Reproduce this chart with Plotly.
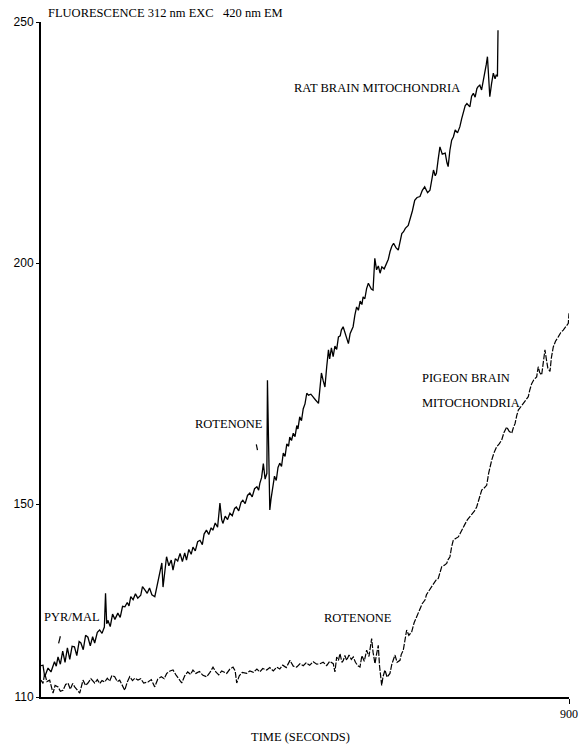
import plotly.graph_objects as go

# ---- data (time in s, fluorescence units) ----
rat_t = [0, 3.4, 6.3, 12, 17, 23, 26, 29, 33, 37, 41, 45, 49, 53, 57, 61, 65, 68, 72, 76, 80, 84, 88, 91.5,
         96, 100, 104, 108, 110, 112, 114, 118, 122, 126, 131, 135, 139, 143, 147, 150, 153, 157, 161, 165,
         170, 173, 177, 181, 185, 189, 194, 199, 203, 206, 208, 211, 214, 218, 222, 225, 229, 233, 237, 241,
         245, 248, 252, 256, 259, 263, 267, 271, 275, 278, 282, 286, 290, 293, 297, 301, 305, 308, 310, 314,
         318, 322, 326, 330, 333, 337, 341, 344, 348, 352, 356, 360, 364, 368, 371, 373, 376, 379, 382, 385,
         386, 388, 390, 392, 395, 398, 401, 404, 407, 410, 413, 416, 419, 422, 424, 427, 430, 433, 436, 438,
         441, 444, 447, 450, 453, 456, 460, 464, 468, 473, 476, 478, 481, 484, 487, 490, 492, 495, 498, 501,
         504, 507, 510, 512, 515, 518, 521, 524, 527, 530, 532, 535, 538, 541, 544, 547, 549, 552, 555, 558,
         561, 563, 566, 569, 572, 575, 578, 581, 585, 589, 592, 595, 598, 601, 605, 609, 612, 615, 618, 621,
         626, 629, 633, 637, 641, 646, 650, 654, 659, 663, 666, 669, 672, 674, 677, 680, 684, 689, 692, 694,
         697, 700, 703, 706, 710, 714, 717, 720, 723, 726, 729, 731, 734, 737, 740, 743, 745, 748, 751, 754,
         757, 759, 761, 763, 765, 768, 771, 774, 776, 778, 779]
rat_v = [116.5, 116.6, 114.2, 116.0, 115.2, 117.3, 116.4, 118.3, 116.8, 119.5, 117.2, 120.2, 117.8, 120.5,
         120.4, 118.6, 121.5, 121.2, 119.8, 122.8, 122.4, 120.6, 122.5, 121.2, 123.4, 123.9, 123.2, 124.5,
         131.5, 125.2, 125.9, 124.6, 127.2, 126.1, 127.4, 126.5, 128.8, 128.7, 129.6, 128.9, 130.8, 130.2,
         131.4, 130.5, 131.1, 132.9, 132.2, 131.5, 132.6, 131.2, 130.8, 133.6, 135.5, 137.8, 132.8, 136.5,
         139.1, 137.2, 138.4, 136.3, 138.7, 138.2, 139.8, 138.1, 139.9, 138.4, 140.6, 139.6, 141.1, 140.3,
         142.2, 142.5, 141.6, 143.8, 144.6, 143.7, 145.1, 144.6, 146.1, 145.2, 150.2, 146.8, 146.0, 147.5,
         146.8, 148.1, 147.6, 149.1, 149.4, 148.6, 150.4, 150.8, 150.1, 151.8, 152.3, 151.5, 153.2, 153.6,
         152.9, 154.3, 155.5, 158.4, 155.2, 156.4, 175.7, 162.0, 148.8, 151.0, 153.5, 155.8, 154.9, 157.6,
         158.5, 157.8, 160.6, 159.9, 162.5, 162.0, 163.9, 163.2, 164.7, 164.0, 166.3, 165.6, 168.1, 167.3,
         169.8, 170.8, 173.0, 172.6, 172.8, 172.3, 171.6, 170.9, 174.5, 177.2, 175.6, 174.3, 178.5, 182.0,
         180.1, 182.4, 180.6, 182.8, 182.1, 184.7, 184.9, 186.1, 186.8, 185.5, 184.2, 183.3, 185.4, 186.4,
         186.8, 189.2, 190.9, 190.2, 192.1, 191.4, 193.0, 192.6, 194.7, 195.8, 195.0, 194.6, 194.4, 201.0,
         198.6, 199.4, 197.9, 199.2, 198.8, 199.9, 200.8, 202.4, 203.5, 204.1, 203.2, 202.7, 204.8, 206.1,
         206.5, 207.2, 207.8, 208.9, 210.8, 213.0, 213.6, 213.8, 215.1, 215.8, 214.6, 215.1, 217.4, 219.3,
         218.1, 218.6, 221.5, 224.1, 222.6, 222.8, 220.8, 220.0, 223.4, 225.5, 226.2, 227.6, 227.0, 228.3,
         229.9, 231.1, 232.6, 233.1, 232.8, 232.4, 234.6, 235.2, 234.4, 236.2, 236.6, 236.9, 235.9, 237.8,
         239.4, 241.2, 242.8, 239.5, 234.5, 237.2, 239.4, 238.2, 239.1, 238.7, 248.3]

pigeon_t = [0, 3.4, 6.3, 10, 14.8, 18, 20.5, 24, 29, 33, 37.5, 42, 46, 50, 54, 57.4, 62, 66, 71.6, 76, 80,
            85, 91.5, 96, 100, 104, 108.6, 113, 117, 121, 125.6, 130, 134.1, 138, 142.7, 147, 151.2, 156,
            160, 165.3, 170, 175, 182.4, 188, 193.8, 199, 205, 210, 214.3, 220, 225, 230, 235, 239.8, 245,
            250, 255, 259, 264, 270, 276, 282.4, 288, 293.2, 298, 303, 308, 316.5, 322, 327.3, 331, 333.6,
            338, 343, 350.6, 356, 362, 368, 373, 378, 384.7, 390, 396, 401.7, 407, 412, 418, 424.4, 430,
            435.8, 441.4, 447, 452, 458, 464, 470, 475.5, 481, 487, 492, 498.2, 501, 504, 507, 509.6, 513,
            515.3, 518, 521, 525, 529, 532.3, 536, 540, 543.7, 547, 551, 555.1, 559, 563.6, 566, 569.3, 572,
            574.9, 577, 580.7, 583, 586.3, 590, 594.8, 598, 603.4, 607, 611.9, 614, 617.5, 620, 623.3, 627,
            631.8, 636, 640.4, 643, 646, 650, 654.5, 657, 660.1, 664, 668.7, 673, 677.2, 680, 683, 687,
            691.5, 694, 697.1, 700, 702.7, 706, 711.3, 714, 717, 722, 727, 731.2, 735, 739, 742.6, 746, 749,
            751.2, 755, 759.7, 763, 766, 768.2, 772, 776.7, 781, 785.3, 789, 793.8, 798, 802.3, 805, 808,
            811, 813.6, 818, 822.1, 826, 830.6, 833, 836.4, 840, 844.9, 847.6, 850, 853.4, 856, 859, 862,
            864, 867.6, 870, 873.2, 877, 881.7, 886, 890.2, 894, 898.8, 900]
pigeon_v = [113.5, 112.8, 114.9, 113.2, 113.5, 111.9, 110.8, 112.4, 112.1, 111.2, 111.4, 112.6, 112.9, 111.6,
            112.8, 112.1, 111.5, 110.8, 113.5, 112.4, 112.9, 113.8, 112.9, 113.6, 112.8, 113.4, 113.1, 113.9,
            113.3, 114.5, 114.2, 113.2, 113.5, 112.6, 111.4, 113.1, 114.2, 113.4, 113.9, 113.5, 113.8, 112.9,
            113.1, 113.6, 112.1, 113.7, 114.2, 113.8, 114.9, 115.4, 115.6, 114.6, 113.8, 112.9, 114.4, 115.2,
            114.7, 115.6, 114.9, 115.3, 114.5, 114.2, 115.1, 116.2, 115.2, 114.6, 115.4, 114.9, 115.8, 116.2,
            115.4, 112.9, 114.4, 115.1, 114.9, 115.4, 115.1, 115.8, 115.2, 115.9, 115.6, 116.1, 115.4, 116.2,
            115.8, 116.6, 116.1, 117.6, 116.4, 116.2, 116.9, 116.5, 117.1, 116.6, 117.3, 116.8, 116.9, 117.2,
            116.5, 117.4, 116.9, 115.2, 118.3, 117.6, 119.0, 117.2, 117.6, 118.6, 117.6, 118.7, 117.8, 118.3,
            117.2, 116.5, 116.2, 118.6, 117.4, 119.7, 118.4, 122.1, 119.3, 116.9, 118.9, 120.7, 116.5, 112.4,
            114.2, 115.6, 114.1, 114.9, 116.8, 118.7, 117.2, 117.6, 118.8, 119.7, 121.5, 123.9, 122.8, 123.5,
            125.4, 126.6, 127.2, 128.0, 129.4, 130.1, 131.2, 131.8, 132.6, 133.5, 134.2, 134.6, 135.9, 137.0,
            137.3, 137.7, 138.5, 139.1, 141.2, 142.5, 142.8, 143.2, 143.8, 144.6, 145.7, 146.8, 147.4, 148.1,
            148.6, 149.4, 150.8, 152.3, 152.9, 153.3, 153.9, 156.4, 158.2, 159.1, 160.6, 161.9, 162.5, 163.3,
            164.8, 166.0, 165.1, 164.7, 165.8, 166.7, 168.4, 169.5, 170.2, 170.9, 171.5, 172.3, 173.6, 175.0,
            175.8, 176.4, 178.5, 177.3, 176.8, 179.5, 182.0, 179.6, 178.2, 177.5, 180.4, 182.6, 183.8, 184.7,
            185.6, 186.1, 186.8, 187.5, 189.6]

# small addition marks (time, value) drawn next to the traces
pyrmal_mark_t = [30, 33]
pyrmal_mark_v = [121.1, 122.6]
rot_mark_t = [367, 369]
rot_mark_v = [162.4, 161.2]

y_ticks = [110, 150, 200, 250]
x_ticks = [900]
x_tick_labels = ["900"]

SERIF = "Liberation Serif"
SANS = "Liberation Sans"

# plot area sits at x 41..569, y 22..697 in the 584x744 window
PL, PR, PT, PB = 41, 569, 22, 697
W, H = 584, 744
PW, PH = PR - PL, PB - PT

fig = go.Figure()
fig.add_trace(go.Scatter(x=rat_t, y=rat_v, mode="lines",
                         line=dict(color="black", width=1.3), showlegend=False, hoverinfo="skip"))
fig.add_trace(go.Scatter(x=pigeon_t, y=pigeon_v, mode="lines",
                         line=dict(color="black", width=1.2, dash="6px,1.5px"), showlegend=False,
                         hoverinfo="skip"))
for mt, mv in [(pyrmal_mark_t, pyrmal_mark_v), (rot_mark_t, rot_mark_v)]:
    fig.add_trace(go.Scatter(x=mt, y=mv, mode="lines", line=dict(color="black", width=1.2),
                             showlegend=False, hoverinfo="skip"))

ann_font = dict(family=SERIF, size=12.5, color="black")
annotations = [
    dict(x=428, y=236.3, text="RAT BRAIN MITOCHONDRIA", xanchor="left", yanchor="middle"),
    dict(x=259, y=166.6, text="ROTENONE", xanchor="left", yanchor="middle"),
    dict(x=646, y=176.1, text="PIGEON BRAIN", xanchor="left", yanchor="middle"),
    dict(x=646, y=171.0, text="MITOCHONDRIA", xanchor="left", yanchor="middle"),
    dict(x=479, y=126.3, text="ROTENONE", xanchor="left", yanchor="middle"),
    dict(x=2, y=126.6, text="PYR/MAL", xanchor="left", yanchor="middle"),
]
for a in annotations:
    a.update(xref="x", yref="y", showarrow=False, font=ann_font)

annotations.append(dict(xref="paper", yref="paper", x=(46 - 41) / PW, y=1 + (22 - 13) / PH,
                        text="FLUORESCENCE 312 nm EXC   420 nm EM", xanchor="left", yanchor="middle",
                        showarrow=False, font=ann_font))
annotations.append(dict(xref="paper", yref="paper", x=(300 - 41) / PW, y=(697 - 737) / PH,
                        text="TIME (SECONDS)", xanchor="center", yanchor="middle",
                        showarrow=False, font=ann_font))

fig.update_layout(
    width=W, height=H,
    margin=dict(l=PL, r=W - PR, t=PT, b=H - PB, pad=0, autoexpand=False),
    paper_bgcolor="white", plot_bgcolor="white",
    annotations=annotations,
    xaxis=dict(range=[0, 900], tickvals=x_ticks, ticktext=x_tick_labels, ticks="outside", ticklen=5,
               tickcolor="black", tickwidth=1, showline=True, linecolor="black", linewidth=1.5,
               showgrid=False, zeroline=False, automargin=False,
               tickfont=dict(family=SERIF, size=12, color="black")),
    yaxis=dict(range=[110, 250], tickvals=y_ticks, ticks="outside", ticklen=3, tickcolor="black",
               tickwidth=1, showline=True, linecolor="black", linewidth=2, showgrid=False,
               zeroline=False, automargin=False,
               tickfont=dict(family=SANS, size=12, color="black")),
)

fig.write_html("out.html", config={"displayModeBar": False},
               post_script="document.body.style.margin='0';document.body.style.overflow='hidden';")
